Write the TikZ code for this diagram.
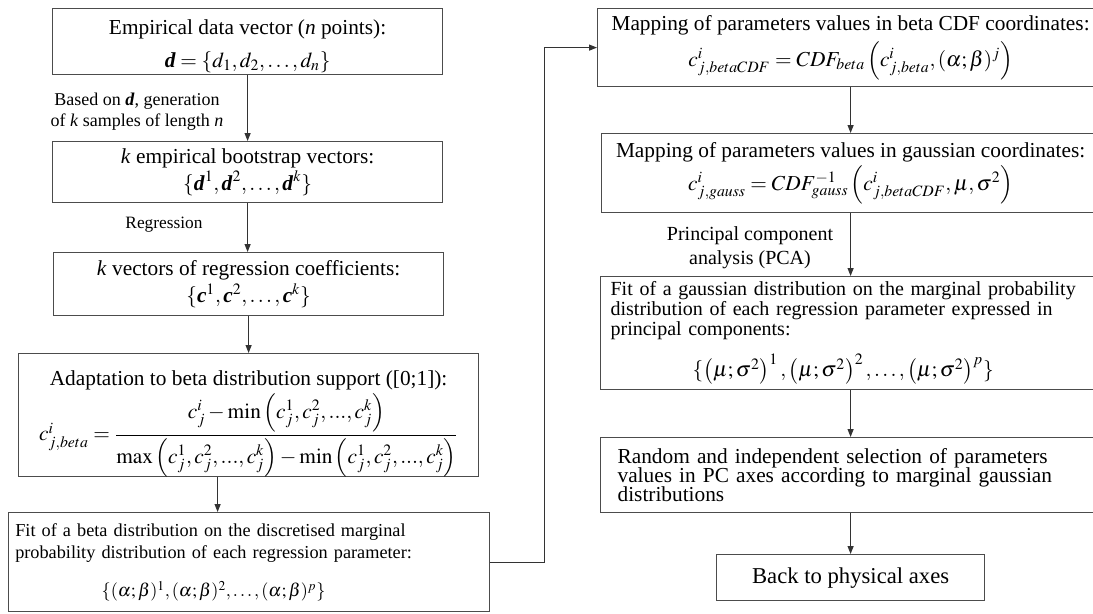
\documentclass[tikz,border=0pt]{standalone}
\usepackage{amsmath}
\usepackage{mathptmx}
\usepackage{fontspec}
\setmainfont{Liberation Serif}
\usetikzlibrary{arrows.meta,positioning}

\newcommand{\bvec}[1]{\textbf{\textit{#1}}}

\tikzset{
  box/.style={draw=black!70,line width=0.9pt,anchor=north west,inner sep=0pt,align=center,font=\fontsize{16}{19}\selectfont},
  lbl/.style={inner sep=0pt,align=center,font=\fontsize{13.5}{16}\selectfont},
  flow/.style={draw=black!80,line width=0.9pt,-{Triangle[length=6pt,width=4.5pt]}}
}

\begin{document}
\begin{tikzpicture}[x=0.75pt,y=0.75pt,yscale=-1,xscale=1]
\useasboundingbox (0,0) rectangle (1093,614);

% left column
\node[box,minimum width=292.5pt,minimum height=49.5pt] (data) at (52,8)
  {\rule{0pt}{18pt}Empirical data vector (\textit{n} points):\\[6pt] $\bvec{d}=\{d_1,d_2,\ldots,d_n\}$};

\node[box,minimum width=292.5pt,minimum height=45.75pt] (boot) at (52,141)
  {\textit{k} empirical bootstrap vectors:\\[1pt] $\{\bvec{d}^1,\bvec{d}^2,\ldots,\bvec{d}^k\}$};

\node[box,minimum width=292.5pt,minimum height=47.25pt] (coef) at (53,252)
  {\textit{k} vectors of regression coefficients:\\[1pt] $\{\bvec{c}^1,\bvec{c}^2,\ldots,\bvec{c}^k\}$};

\node[box,minimum width=345pt,minimum height=89.25pt] (adapt) at (18,353)
  {\rule{0pt}{24pt}Adaptation to beta distribution support ([0;1]):\\[2pt]
   $c^{i}_{j,beta}=\dfrac{c^i_j-\min\left(c^1_j,c^2_j,...,c^k_j\right)}{\max\left(c^1_j,c^2_j,...,c^k_j\right)-\min\left(c^1_j,c^2_j,...,c^k_j\right)}$};

\node[box,minimum width=360.75pt,minimum height=74.25pt,text width=350.75pt,inner xsep=5pt,align=left,font=\fontsize{13.7}{16.5}\selectfont] (fitbeta) at (8,512)
  {\noindent\begin{tabular}{@{}l@{}}
   Fit of a beta distribution on the discretised marginal\\
   probability distribution of each regression parameter:\\[12pt]
   \multicolumn{1}{@{}c@{}}{$\{(\alpha;\beta)^1,(\alpha;\beta)^2,\ldots,(\alpha;\beta)^p\}$}
   \end{tabular}};

% right column
\node[box,minimum width=379.5pt,minimum height=58.5pt] (mapcdf) at (597,8)
  {Mapping of parameters values in beta CDF coordinates:\\[4pt]
   $c^i_{j,betaCDF}=CDF_{beta}\left(c^i_{j,beta},(\alpha;\beta)^j\right)$};

\node[box,minimum width=373.5pt,minimum height=59.25pt] (mapgauss) at (601,133)
  {Mapping of parameters values in gaussian coordinates:\\[2pt]
   $c^i_{j,gauss}=CDF^{-1}_{gauss}\left(c^i_{j,betaCDF},\mu,\sigma^2\right)$};

\node[box,minimum width=375pt,minimum height=84.75pt,text width=360pt,inner xsep=7.5pt,align=left,font=\fontsize{15}{14}\selectfont] (fitgauss) at (600,276)
  {\noindent\begin{tabular}{@{}l@{}}
   Fit of a gaussian distribution on the marginal probability\\
   distribution of each regression parameter expressed in\\
   principal components:\\[10pt]
   \multicolumn{1}{@{}c@{}}{\fontsize{16}{19}\selectfont$\{\left(\mu;\sigma^2\right)^1,\left(\mu;\sigma^2\right)^2,\ldots,\left(\mu;\sigma^2\right)^p\}$}
   \end{tabular}};

\node[box,minimum width=375pt,minimum height=56.25pt,text width=349.5pt,inner xsep=12.75pt,align=left,font=\fontsize{16}{14.6}\selectfont] (select) at (600,437)
  {Random and independent selection of parameters\\
   values in PC axes according to marginal gaussian\\
   distributions};

\node[box,minimum width=201pt,minimum height=34.5pt,font=\fontsize{17}{20}\selectfont] (back) at (716,554)
  {Back to physical axes};

% labels on the arrows
\node[lbl] (gen) at (137,112) {Based on \bvec{d}, generation\\ of \textit{k} samples of length \textit{n}};
\node[lbl,font=\fontsize{13}{16}\selectfont] (reg) at (164,225) {Regression};
\node[lbl,font=\fontsize{15}{18}\selectfont] (pca) at (750,248) {Principal component\\ analysis (PCA)};

% arrows
\draw[flow] (data.south) -- (boot.north);
\draw[flow] (boot.south) -- (boot.south |- coef.north);
\draw[flow] (coef.south) -- (adapt.north);
\draw[flow] ([xshift=-23.25pt]adapt.south) -- ([xshift=-23.25pt]adapt.south |- fitbeta.north);
\draw[flow] (fitbeta.east) -- ++(54,0) |- (mapcdf.west);
\draw[flow] (mapcdf) -- (mapgauss);
\draw[flow] (mapgauss) -- (fitgauss);
\draw[flow] (fitgauss) -- (select);
\draw[flow] (select) -- (back);

\end{tikzpicture}
\end{document}
